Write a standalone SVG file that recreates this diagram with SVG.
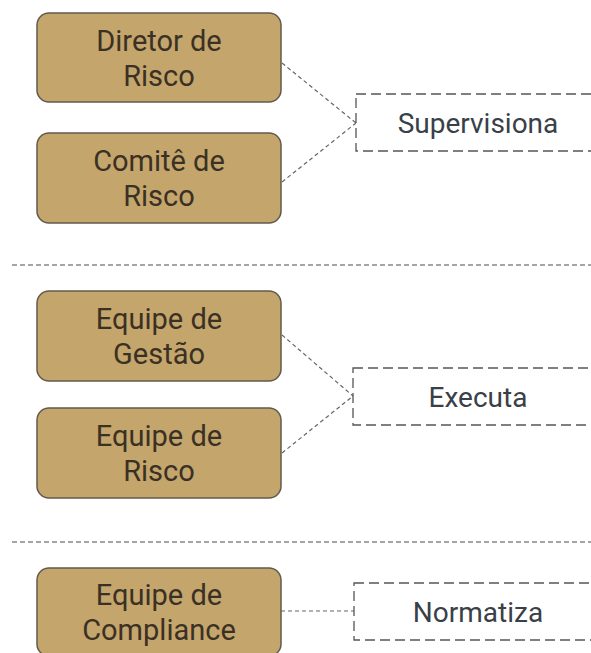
<svg xmlns="http://www.w3.org/2000/svg" width="591" height="653" viewBox="0 0 591 653">
<style>
.node rect{fill:#c4a56c;stroke:#625b4c;stroke-width:1.5}
.node text{font-family:Roboto,"Liberation Sans",sans-serif;font-size:29px;fill:#3a3124;text-anchor:middle}
.label rect{fill:#fff;stroke:#555;stroke-width:1.3;stroke-dasharray:10 5}
.label text{font-family:Roboto,"Liberation Sans",sans-serif;font-size:28px;fill:#394047;text-anchor:middle}
.conn{stroke:#666;stroke-width:1.2;stroke-dasharray:4 3;fill:none}
.sep{stroke:#888;stroke-width:1.5;stroke-dasharray:5 3}
</style>
<rect width="591" height="653" fill="#fff"/>
<g id="separators">
<line class="sep" x1="12" y1="265" x2="591" y2="265"/>
<line class="sep" x1="12" y1="542" x2="591" y2="542"/>
</g>
<g id="connectors">
<line class="conn" x1="282" y1="63" x2="356" y2="123"/>
<line class="conn" x1="282" y1="182" x2="356" y2="123"/>
<line class="conn" x1="282" y1="335" x2="353" y2="396"/>
<line class="conn" x1="282" y1="453" x2="353" y2="396"/>
<line class="conn" x1="281" y1="611" x2="354" y2="611"/>
</g>
<g id="n1" class="node"><rect x="37" y="13" width="244" height="89" rx="12"/><text x="159" y="51">Diretor de</text><text x="159" y="86">Risco</text></g>
<g id="n2" class="node"><rect x="37" y="133" width="244" height="90" rx="12"/><text x="159" y="171">Comitê de</text><text x="159" y="206">Risco</text></g>
<g id="n3" class="node"><rect x="37" y="291" width="244" height="90" rx="12"/><text x="159" y="329">Equipe de</text><text x="159" y="364">Gestão</text></g>
<g id="n4" class="node"><rect x="37" y="408" width="244" height="90" rx="12"/><text x="159" y="446">Equipe de</text><text x="159" y="481">Risco</text></g>
<g id="n5" class="node"><rect x="37" y="568" width="244" height="88" rx="12"/><text x="159" y="605">Equipe de</text><text x="159" y="640">Compliance</text></g>
<g id="l1" class="label"><rect x="356" y="94" width="250" height="57"/><text x="478" y="133">Supervisiona</text></g>
<g id="l2" class="label"><rect x="353" y="368" width="253" height="57"/><text x="478" y="407">Executa</text></g>
<g id="l3" class="label"><rect x="354" y="583" width="252" height="57"/><text x="478" y="622">Normatiza</text></g>
</svg>
